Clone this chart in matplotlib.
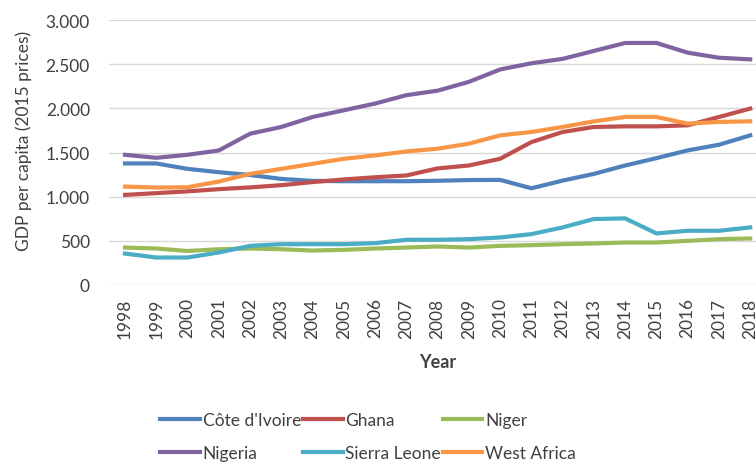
import matplotlib
matplotlib.use("Agg")
import matplotlib.pyplot as plt
from matplotlib.ticker import FuncFormatter, FixedLocator

years = list(range(1998, 2019))
cote_divoire = [1376, 1376, 1315, 1277, 1245, 1201, 1179, 1175, 1175, 1175, 1180,
                1188, 1190, 1095, 1182, 1258, 1353, 1436, 1524, 1588, 1694]
ghana = [1020, 1040, 1060, 1085, 1105, 1130, 1165, 1195, 1220, 1240, 1320,
         1353, 1429, 1618, 1732, 1789, 1796, 1796, 1808, 1902, 1997]
niger = [424, 413, 385, 405, 413, 405, 390, 398, 413, 424, 436,
         424, 443, 451, 462, 470, 481, 481, 500, 519, 527]
nigeria = [1474, 1440, 1474, 1523, 1713, 1789, 1902, 1978, 2054, 2149, 2200,
           2300, 2440, 2510, 2560, 2650, 2740, 2740, 2630, 2573, 2554]
sierra_leone = [356, 311, 311, 368, 443, 462, 462, 462, 474, 512, 512,
                519, 538, 576, 652, 747, 754, 584, 614, 614, 652]
west_africa = [1114, 1103, 1107, 1171, 1258, 1315, 1372, 1429, 1467, 1512, 1543,
               1600, 1694, 1732, 1789, 1853, 1902, 1902, 1827, 1846, 1853]

series_names = ["Côte d'Ivoire", "Ghana", "Niger", "Nigeria", "Sierra Leone", "West Africa"]
series_values = [cote_divoire, ghana, niger, nigeria, sierra_leone, west_africa]
colors = ["#4F81BD", "#C0504D", "#9BBB59", "#8064A2", "#4BACC6", "#F79646"]
y_ticks = [0, 500, 1000, 1500, 2000, 2500, 3000]

plt.rcParams['font.family'] = ['Lato', 'DejaVu Sans']

fig = plt.figure(figsize=(7.56, 4.64), dpi=100)
W, H = 756, 464
ax = fig.add_axes([109.4 / W, 178 / H, 687.7 / W, 265 / H])

lines = {}
for name, vals, c in zip(series_names, series_values, colors):
    ln, = ax.plot(years, vals, color=c, lw=3.0, solid_joinstyle='round', label=name)
    lines[name] = ln

ax.set_xlim(1997.5, 2019.5)
ax.set_ylim(0, 3000)
ax.yaxis.set_major_locator(FixedLocator(y_ticks))
ax.yaxis.set_major_formatter(FuncFormatter(lambda v, p: f"{int(v):,}".replace(",", ".")))
ax.set_xticks(years)
ax.set_xticklabels([str(y) for y in years], rotation=90)
ax.grid(axis='y', color='#D9D9D9', lw=1)
ax.set_axisbelow(True)
for s in ax.spines.values():
    s.set_visible(False)
ax.tick_params(axis='both', length=0, labelsize=12.5, colors='#404040')
ax.tick_params(axis='y', pad=14)
ax.tick_params(axis='x', pad=9)

fig.text(24 / W, 1 - 141 / H, "GDP per capita (2015 prices)", rotation=90,
         ha='center', va='center', fontsize=12.5, color='#404040')
fig.text(438 / W, 1 - 363 / H, "Year", ha='center', va='center', fontsize=13,
         fontweight='bold', color='#404040')

order = ["Côte d'Ivoire", "Nigeria", "Ghana", "Sierra Leone", "Niger", "West Africa"]
leg = fig.legend([lines[n] for n in order], order, ncol=3, loc='upper left',
                 bbox_to_anchor=(160 / W, 1 - 413 / H), frameon=False, fontsize=12.5,
                 handlelength=2.3, handletextpad=0.15, columnspacing=0.1,
                 labelspacing=1.0, borderpad=0, borderaxespad=0)
for t in leg.get_texts():
    t.set_color('#404040')

fig.savefig("out.png", dpi=100)
